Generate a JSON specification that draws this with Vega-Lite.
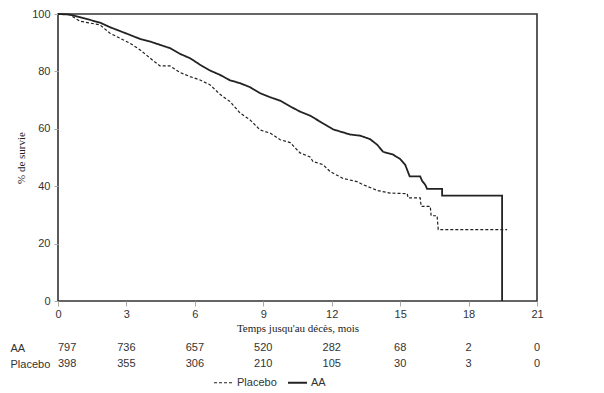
{
  "$schema": "https://vega.github.io/schema/vega-lite/v6.json",
  "padding": {"left": 10, "top": 7, "right": 5, "bottom": 0},
  "background": "white",
  "config": {
    "font": "Liberation Sans",
    "view": {"stroke": null},
    "concat": {"spacing": 6},
    "axis": {"grid": false, "labelFont": "Liberation Sans", "labelFontSize": 11, "labelColor": "#333", "titleFont": "Liberation Serif", "titleFontSize": 11, "titleFontWeight": "normal", "titleColor": "#222", "tickColor": "#aaa"}
  },
  "datasets": {
    "km": [
      {"g": "AA", "i": 0, "t": 0, "s": 100},
      {"g": "AA", "i": 1, "t": 0.5, "s": 99.8},
      {"g": "AA", "i": 2, "t": 0.96, "s": 98.9},
      {"g": "AA", "i": 3, "t": 1.84, "s": 97.0},
      {"g": "AA", "i": 4, "t": 2.28, "s": 95.4},
      {"g": "AA", "i": 5, "t": 3.16, "s": 92.7},
      {"g": "AA", "i": 6, "t": 3.6, "s": 91.3},
      {"g": "AA", "i": 7, "t": 4.04, "s": 90.4},
      {"g": "AA", "i": 8, "t": 4.91, "s": 88.1},
      {"g": "AA", "i": 9, "t": 5.35, "s": 86.1},
      {"g": "AA", "i": 10, "t": 5.79, "s": 84.6},
      {"g": "AA", "i": 11, "t": 6.23, "s": 82.3},
      {"g": "AA", "i": 12, "t": 6.67, "s": 80.3},
      {"g": "AA", "i": 13, "t": 7.1, "s": 78.8},
      {"g": "AA", "i": 14, "t": 7.54, "s": 76.9},
      {"g": "AA", "i": 15, "t": 7.98, "s": 75.9},
      {"g": "AA", "i": 16, "t": 8.42, "s": 74.5},
      {"g": "AA", "i": 17, "t": 8.86, "s": 72.4},
      {"g": "AA", "i": 18, "t": 9.3, "s": 71.0},
      {"g": "AA", "i": 19, "t": 9.74, "s": 69.8},
      {"g": "AA", "i": 20, "t": 10.18, "s": 67.8},
      {"g": "AA", "i": 21, "t": 10.61, "s": 66.0},
      {"g": "AA", "i": 22, "t": 11.05, "s": 64.6},
      {"g": "AA", "i": 23, "t": 11.49, "s": 62.5},
      {"g": "AA", "i": 24, "t": 12.06, "s": 59.8},
      {"g": "AA", "i": 25, "t": 12.81, "s": 58.0},
      {"g": "AA", "i": 26, "t": 13.25, "s": 57.6},
      {"g": "AA", "i": 27, "t": 13.68, "s": 56.4},
      {"g": "AA", "i": 28, "t": 14.0, "s": 54.4},
      {"g": "AA", "i": 29, "t": 14.25, "s": 52.0},
      {"g": "AA", "i": 30, "t": 14.69, "s": 51.0},
      {"g": "AA", "i": 31, "t": 15.0, "s": 49.5},
      {"g": "AA", "i": 32, "t": 15.22, "s": 47.5},
      {"g": "AA", "i": 33, "t": 15.42, "s": 43.4},
      {"g": "AA", "i": 34, "t": 15.88, "s": 43.4},
      {"g": "AA", "i": 35, "t": 15.96, "s": 41.9},
      {"g": "AA", "i": 36, "t": 16.1, "s": 40.5},
      {"g": "AA", "i": 37, "t": 16.18, "s": 39.1},
      {"g": "AA", "i": 38, "t": 16.84, "s": 39.1},
      {"g": "AA", "i": 39, "t": 16.84, "s": 36.7},
      {"g": "AA", "i": 40, "t": 19.47, "s": 36.7},
      {"g": "AA", "i": 41, "t": 19.47, "s": 0},
      {"g": "Placebo", "i": 0, "t": 0, "s": 100},
      {"g": "Placebo", "i": 1, "t": 0.5, "s": 99.8},
      {"g": "Placebo", "i": 2, "t": 0.96, "s": 97.5},
      {"g": "Placebo", "i": 3, "t": 1.84, "s": 96.2},
      {"g": "Placebo", "i": 4, "t": 2.28, "s": 93.3},
      {"g": "Placebo", "i": 5, "t": 3.16, "s": 89.8},
      {"g": "Placebo", "i": 6, "t": 3.6, "s": 87.5},
      {"g": "Placebo", "i": 7, "t": 4.04, "s": 84.6},
      {"g": "Placebo", "i": 8, "t": 4.47, "s": 81.9},
      {"g": "Placebo", "i": 9, "t": 4.91, "s": 81.9},
      {"g": "Placebo", "i": 10, "t": 5.35, "s": 79.6},
      {"g": "Placebo", "i": 11, "t": 5.79, "s": 78.2},
      {"g": "Placebo", "i": 12, "t": 6.23, "s": 77.0},
      {"g": "Placebo", "i": 13, "t": 6.67, "s": 75.3},
      {"g": "Placebo", "i": 14, "t": 7.1, "s": 72.0},
      {"g": "Placebo", "i": 15, "t": 7.54, "s": 69.5},
      {"g": "Placebo", "i": 16, "t": 7.98, "s": 65.5},
      {"g": "Placebo", "i": 17, "t": 8.42, "s": 63.1},
      {"g": "Placebo", "i": 18, "t": 8.86, "s": 59.6},
      {"g": "Placebo", "i": 19, "t": 9.3, "s": 58.5},
      {"g": "Placebo", "i": 20, "t": 9.74, "s": 56.2},
      {"g": "Placebo", "i": 21, "t": 10.18, "s": 55.2},
      {"g": "Placebo", "i": 22, "t": 10.61, "s": 51.6},
      {"g": "Placebo", "i": 23, "t": 11.05, "s": 50.2},
      {"g": "Placebo", "i": 24, "t": 11.18, "s": 48.6},
      {"g": "Placebo", "i": 25, "t": 11.62, "s": 47.5},
      {"g": "Placebo", "i": 26, "t": 11.93, "s": 45.1},
      {"g": "Placebo", "i": 27, "t": 12.5, "s": 42.7},
      {"g": "Placebo", "i": 28, "t": 13.11, "s": 41.6},
      {"g": "Placebo", "i": 29, "t": 13.38, "s": 40.5},
      {"g": "Placebo", "i": 30, "t": 14.0, "s": 38.5},
      {"g": "Placebo", "i": 31, "t": 14.56, "s": 37.6},
      {"g": "Placebo", "i": 32, "t": 15.31, "s": 37.4},
      {"g": "Placebo", "i": 33, "t": 15.35, "s": 35.9},
      {"g": "Placebo", "i": 34, "t": 15.88, "s": 35.9},
      {"g": "Placebo", "i": 35, "t": 15.92, "s": 33.0},
      {"g": "Placebo", "i": 36, "t": 16.32, "s": 33.0},
      {"g": "Placebo", "i": 37, "t": 16.36, "s": 29.7},
      {"g": "Placebo", "i": 38, "t": 16.62, "s": 29.7},
      {"g": "Placebo", "i": 39, "t": 16.67, "s": 24.9},
      {"g": "Placebo", "i": 40, "t": 19.69, "s": 24.9}
    ],
    "risk": [
      {"g": "AA", "t": 0, "n": 797},
      {"g": "AA", "t": 3, "n": 736},
      {"g": "AA", "t": 6, "n": 657},
      {"g": "AA", "t": 9, "n": 520},
      {"g": "AA", "t": 12, "n": 282},
      {"g": "AA", "t": 15, "n": 68},
      {"g": "AA", "t": 18, "n": 2},
      {"g": "AA", "t": 21, "n": 0},
      {"g": "Placebo", "t": 0, "n": 398},
      {"g": "Placebo", "t": 3, "n": 355},
      {"g": "Placebo", "t": 6, "n": 306},
      {"g": "Placebo", "t": 9, "n": 210},
      {"g": "Placebo", "t": 12, "n": 105},
      {"g": "Placebo", "t": 15, "n": 30},
      {"g": "Placebo", "t": 18, "n": 3},
      {"g": "Placebo", "t": 21, "n": 0}
    ]
  },
  "vconcat": [
    {
      "width": 479,
      "height": 287,
      "view": {"stroke": "#333", "strokeWidth": 1.6},
      "data": {"name": "km"},
      "mark": {"type": "line", "interpolate": "linear", "color": "#222"},
      "encoding": {
        "x": {
          "field": "t", "type": "quantitative",
          "scale": {"domain": [0, 21], "nice": false, "zero": false},
          "axis": {"values": [0, 3, 6, 9, 12, 15, 18, 21], "title": "Temps jusqu'au décès, mois", "domain": false, "tickSize": 5, "labelPadding": 2, "titlePadding": 3, "labelFlush": false}
        },
        "y": {
          "field": "s", "type": "quantitative",
          "scale": {"domain": [0, 100], "nice": false},
          "axis": {"values": [0, 20, 40, 60, 80, 100], "title": "% de survie", "domain": false, "tickSize": 4, "labelPadding": 4, "titlePadding": 5, "labelFlush": false}
        },
        "strokeDash": {
          "field": "g", "type": "nominal",
          "scale": {"domain": ["Placebo", "AA"], "range": [[3, 2], [1, 0]]},
          "legend": {
            "title": null, "orient": "none", "direction": "horizontal",
            "legendX": 155, "legendY": 358,
            "symbolType": "stroke", "symbolSize": 360,
            "labelFont": "Liberation Sans", "labelFontSize": 11, "labelColor": "#333",
            "labelOffset": 3, "columnPadding": 7,
            "encode": {"symbols": {"update": {"strokeWidth": {"value": 1.1}, "stroke": {"value": "#555"}}}}
          }
        },
        "strokeWidth": {
          "field": "g", "type": "nominal",
          "scale": {"domain": ["Placebo", "AA"], "range": [1.2, 1.8]},
          "legend": {
            "title": null, "orient": "none", "direction": "horizontal",
            "legendX": 155, "legendY": 358,
            "symbolType": "stroke", "symbolSize": 360,
            "labelFont": "Liberation Sans", "labelFontSize": 11, "labelColor": "#333",
            "labelOffset": 3, "columnPadding": 7,
            "encode": {"symbols": {"update": {"strokeWidth": {"value": 1.1}, "stroke": {"value": "#555"}}}}
          }
        },
        "order": {"field": "i", "type": "quantitative"}
      }
    },
    {
      "width": 479,
      "height": 32,
      "data": {"name": "risk"},
      "mark": {"type": "text", "fontSize": 11, "font": "Liberation Sans", "color": "#333", "baseline": "middle", "align": {"expr": "datum.t === 0 ? 'left' : 'center'"}},
      "encoding": {
        "x": {"field": "t", "type": "quantitative", "scale": {"domain": [0, 21], "nice": false, "zero": false}, "axis": null},
        "y": {
          "field": "g", "type": "nominal",
          "scale": {"domain": ["AA", "Placebo"]},
          "axis": {"title": null, "domain": false, "ticks": false, "tickSize": 0, "labelAlign": "left", "labelPadding": 48, "labelFont": "Liberation Sans", "labelFontSize": 11, "labelColor": "#333"}
        },
        "text": {"field": "n", "type": "quantitative"}
      }
    }
  ]
}
